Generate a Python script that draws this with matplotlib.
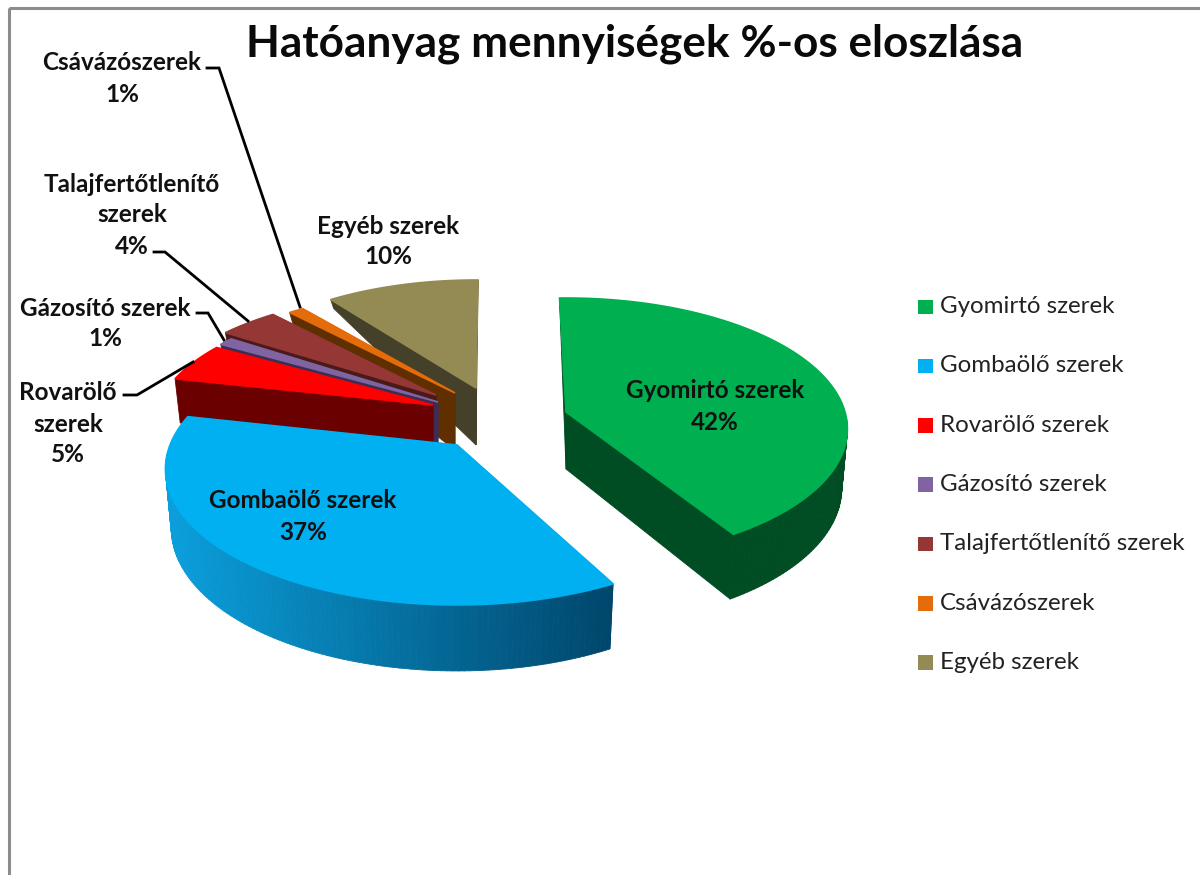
import numpy as np
import matplotlib
matplotlib.use("Agg")
import matplotlib.pyplot as plt
from matplotlib.collections import PolyCollection
from matplotlib.colors import to_rgb
from matplotlib.patches import Polygon, Rectangle

# data
categories = ["Gyomirtó szerek", "Gombaölő szerek", "Rovarölő szerek", "Gázosító szerek",
              "Talajfertőtlenítő szerek", "Csávázószerek", "Egyéb szerek"]
values = [42, 37, 5, 1, 4, 1, 10]
title = "Hatóanyag mennyiségek %-os eloszlása"

# colours
top_colors = ["#00B050", "#00B0F0", "#FF0000", "#8064A2", "#953735", "#E46C0A", "#948A54"]
wall_left = ["#004C23", "#0A9FDC", "#6B0000", "#3C2D56", "#4A1A1A", "#5F2F00", "#45402A"]
wall_right = ["#004C23", "#00466B", "#6B0000", "#3C2D56", "#4A1A1A", "#5F2F00", "#45402A"]

# layout: exploded centre and radii of each slice, in picture pixels
centers = [(566, 412), (457, 445), (433, 405), (438, 402), (436, 395), (455, 393), (476, 388)]
radii = [279, 287, 275, 276, 281, 285, 272]
y_radii = [128.8, 131.8, 122, 122.5, 121, 121, 127]
persps = [0.13, 0.176, 0.176, 0.176, 0.176, 0.176, 0.176]
# the 3D view eats a few degrees next to the gap between the big slices
pad_start = [0, 3, 0, 0, 0, 0, 0]
pad_end = [2, 0, 0, 0, 0, 0, -2]
start_angle = -1.5

# label text lines: centre x, first line y, lines
slice_labels = [
    (715, 391, ["Gyomirtó szerek"]),
    (303, 501, ["Gombaölő szerek"]),
    (68, 393, ["Rovarölő", "szerek"]),
    (105, 308, ["Gázosító szerek"]),
    (132, 184, ["Talajfertőtlenítő", "szerek"]),
    (122, 63, ["Csávázószerek"]),
    (388, 226, ["Egyéb szerek"]),
]
leaders = [
    None, None,
    [(124, 395), (137, 395), (193, 362)],
    [(197, 313), (208, 313), (224, 340)],
    [(154, 252), (165, 252), (248, 321)],
    [(207, 68), (219, 68), (300, 307)],
    None,
]


def top_point(theta, i):
    cx, cy = centers[i]
    t = np.radians(theta)
    den = 1 + persps[i] * np.cos(t)
    return cx + radii[i] * np.sin(t) / den, cy - y_radii[i] * np.cos(t) / den


def bottom_point(theta, i):
    cx = centers[i][0]
    x, y = top_point(theta, i)
    c = np.cos(np.radians(theta))
    depth = max(58 - 62 * c, 4) if c > 0 else 58 - 8 * c
    return cx + (x - cx) * 0.98, y + depth


fig = plt.figure(figsize=(12, 8.75), dpi=100)
ax = fig.add_axes([0, 0, 1, 1])
ax.set_xlim(0, 1200)
ax.set_ylim(875, 0)
ax.axis("off")

# chart frame, cut by the screenshot on the right and at the bottom
ax.add_patch(Rectangle((9, 8), 1300, 1000, fill=False, edgecolor="#8C8C8C", linewidth=2.2))

edges = np.cumsum([0] + values) * 3.6 + start_angle

# back slices first, the two big ones last
for i in [6, 5, 4, 3, 2, 1, 0]:
    cx, cy = centers[i]
    a0 = edges[i] + pad_start[i]
    a1 = edges[i + 1] - pad_end[i]
    angles = np.linspace(a0, a1, max(int(a1 - a0), 4) + 1)

    # cut faces
    for a in (a0, a1):
        face = [(cx, cy), top_point(a, i), bottom_point(a, i), (cx, cy + 57)]
        ax.add_patch(Polygon(face, facecolor=wall_right[i], edgecolor=wall_right[i], linewidth=0.6))

    # outer wall, shaded from left to right, only the near side shows
    tops = [top_point(a, i) for a in angles]
    bots = [bottom_point(a, i) for a in angles]
    quads, cols = [], []
    c0, c1 = np.array(to_rgb(wall_left[i])), np.array(to_rgb(wall_right[i]))
    xs = [p[0] for p in tops]
    for j in range(len(angles) - 1):
        if np.cos(np.radians((angles[j] + angles[j + 1]) / 2)) > -0.05:
            continue
        quads.append([tops[j], tops[j + 1], bots[j + 1], bots[j]])
        f = ((xs[j] + xs[j + 1]) / 2 - min(xs)) / max(max(xs) - min(xs), 1)
        cols.append(tuple(c0 + (c1 - c0) * f))
    if quads:
        ax.add_collection(PolyCollection(quads, facecolors=cols, edgecolors=cols, linewidths=0.6))

    # top face, its own edge hides the wall edges that stick out behind it
    ax.add_patch(Polygon([(cx, cy)] + tops, facecolor=top_colors[i], edgecolor=top_colors[i],
                         linewidth=1.2))

# leader lines
for pts in leaders:
    if pts:
        ax.plot([p[0] for p in pts], [p[1] for p in pts], color="black", lw=2, solid_joinstyle="miter")

# data labels
line_h = 31
for (x, y, lines), v in zip(slice_labels, values):
    for k, line in enumerate(lines + [f"{v}%"]):
        ax.text(x, y + k * line_h, line, ha="center", va="center", family="Lato",
                fontweight="bold", fontsize=17.5, color="#111111")

# legend
for i, name in enumerate(categories):
    y = 306.5 + i * 59.3
    ax.add_patch(Rectangle((918, y - 7), 14.5, 14.5, facecolor=top_colors[i], edgecolor="none"))
    ax.text(939.5, y, name, ha="left", va="center", family="Lato", fontsize=17.4, color="#222222")

ax.text(635, 44, title, ha="center", va="center", family="Lato", fontweight="bold",
        fontsize=31.8, color="#0A0A0A")

fig.savefig("out.png", dpi=100)
